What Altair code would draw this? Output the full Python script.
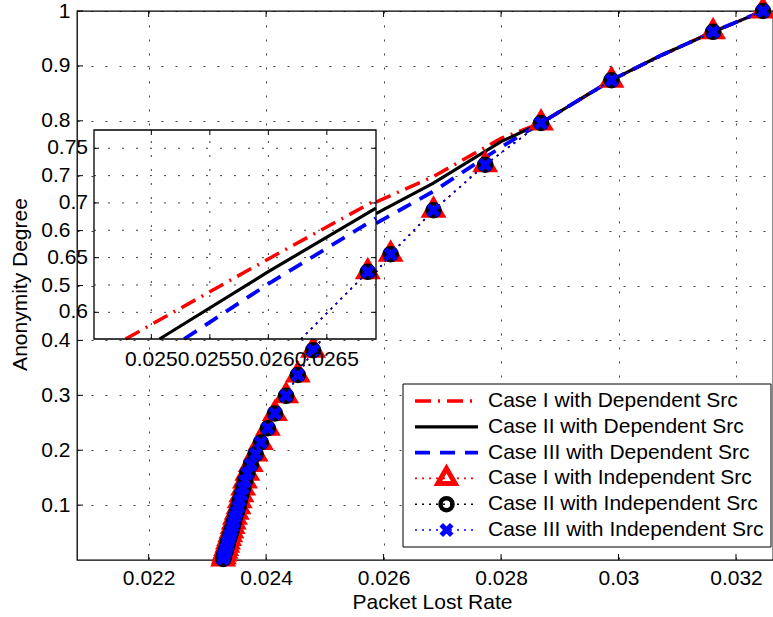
import altair as alt
import pandas as pd

FONT = "Liberation Sans"
RED, BLACK, BLUE = "#ff0000", "#000000", "#0000ff"

# ---------------- main axes ----------------
x_domain = [0.02078, 0.03263]
y_domain = [0.0, 1.0]
x_ticks = [0.022, 0.024, 0.026, 0.028, 0.030, 0.032]
y_ticks = [0.1, 0.2, 0.3, 0.4, 0.5, 0.6, 0.7, 0.8, 0.9, 1.0]

# dependent-source curves (main panel, right of the inset)
dep_x = [0.02587, 0.02684, 0.02800, 0.02868, 0.02988, 0.03070, 0.03161, 0.03246]
dep_case1 = [0.652, 0.698, 0.768, 0.796, 0.874, 0.918, 0.962, 1.000]
dep_case2 = [0.631, 0.686, 0.762, 0.796, 0.874, 0.918, 0.962, 1.000]
dep_case3 = [0.613, 0.671, 0.752, 0.796, 0.874, 0.918, 0.962, 1.000]

# independent-source curves (markers)
ind_x = [0.02327, 0.02328, 0.02329, 0.02331, 0.02332, 0.02334, 0.02335, 0.02337,
         0.02339, 0.02341, 0.02343, 0.02345, 0.02347, 0.02350, 0.02353, 0.02355,
         0.02358, 0.02361, 0.02364, 0.02368, 0.02374, 0.02382, 0.02391, 0.02403,
         0.02415, 0.02434, 0.02454, 0.02480, 0.02612, 0.02685, 0.02773, 0.02868,
         0.02988, 0.03161, 0.03246]
ind_case1 = [0.002, 0.006, 0.011, 0.016, 0.021, 0.027, 0.033, 0.039, 0.046, 0.053,
             0.061, 0.069, 0.078, 0.087, 0.097, 0.108, 0.119, 0.131, 0.144, 0.158,
             0.174, 0.193, 0.214, 0.240, 0.267, 0.299, 0.337, 0.382, 0.557, 0.637,
             0.720, 0.796, 0.874, 0.962, 1.000]
ind_case2 = list(ind_case1)
ind_case3 = list(ind_case1)

# ---------------- inset ----------------
inset_xlim = [0.02451, 0.02692]
inset_ylim = [0.5756, 0.7667]
inset_x_ticks = [0.025, 0.0255, 0.026, 0.0265]
inset_x_labels = ["0.025", "0.0255", "0.026", "0.0265"]
inset_y_ticks = [0.6, 0.65, 0.7, 0.75]
inset_y_labels = ["0.6", "0.65", "0.7", "0.75"]
inset_y_grid = [0.6, 0.625, 0.65, 0.675, 0.7, 0.725, 0.75]
inset_dep1_x = [0.02478, 0.02600, 0.02692]
inset_dep1_y = [0.5756, 0.6488, 0.7027]
inset_dep2_x = [0.02507, 0.02600, 0.02692]
inset_dep2_y = [0.5756, 0.6372, 0.6952]
inset_dep3_x = [0.02528, 0.02600, 0.02692]
inset_dep3_y = [0.5756, 0.6260, 0.6860]
inset_ind_x = [0.02628, 0.02685]
inset_ind_y = [0.5756, 0.637]

legend_labels = [
    "Case I with Dependent Src",
    "Case II with Dependent Src",
    "Case III with Dependent Src",
    "Case I with Independent Src",
    "Case II with Independent Src",
    "Case III with Independent Src",
]

# ---------------- layout (pixels) ----------------
W, H = 696, 549
INSET_RX = [17, 299]
INSET_RY = [328, 119]

TRI = "M0,-1.155L1,0.577L-1,0.577Z"
XSH = "M-1,-1L1,1M1,-1L-1,1"
DASHDOT = [16, 7, 2, 7]
DASHED = [15, 10]
DOTTED = [2, 5]


def xy(x, y):
    return pd.DataFrame({"x": x, "y": y})


def marker_mark(kind):
    if kind == "tri":
        return dict(shape=TRI, size=300, filled=False, color=RED, strokeWidth=5, opacity=1)
    if kind == "circle":
        return dict(shape="circle", size=144, filled=False, color=BLACK, strokeWidth=4.5, opacity=1)
    return dict(shape=XSH, size=110, filled=False, color=BLUE, strokeWidth=5, opacity=1)


grid_style = dict(gridDash=[2, 12], gridColor="#000000", gridOpacity=0.75, gridWidth=1)
ax_x = alt.Axis(values=x_ticks, format=".3~f", grid=True, ticks=False, tickSize=0, domain=False,
                labelFont=FONT, labelFontSize=21, labelColor="black", labelPadding=24,
                labelBaseline="alphabetic", labelFlush=False, labelOverlap=False,
                title="Packet Lost Rate", titleFont=FONT, titleFontSize=21, titleFontWeight="normal",
                titleColor="black", titleX=355, titleY=48, titleBaseline="alphabetic",
                titleAlign="center", **grid_style)
ax_y = alt.Axis(values=y_ticks, format=".1~f", grid=True, ticks=False, tickSize=0, domain=False,
                labelFont=FONT, labelFontSize=21, labelColor="black", labelPadding=7,
                labelFlush=False, labelOverlap=False,
                title="Anonymity Degree", titleFont=FONT, titleFontSize=21, titleFontWeight="normal",
                titleColor="black", titleX=-51, titleY=273, titleAngle=270,
                titleBaseline="alphabetic", titleAlign="center", **grid_style)

xs = alt.Scale(domain=x_domain, nice=False, zero=False)
ys = alt.Scale(domain=y_domain, nice=False, zero=False)
MX = alt.X("x:Q", scale=xs, axis=ax_x)
MY = alt.Y("y:Q", scale=ys, axis=ax_y)

main_layers = []
# inward ticks
main_layers.append(alt.Chart(pd.DataFrame({"x": x_ticks})).mark_rule(color="black", strokeWidth=1)
                   .encode(x=MX, y=alt.value(H), y2=alt.value(H - 6)))
main_layers.append(alt.Chart(pd.DataFrame({"x": x_ticks})).mark_rule(color="black", strokeWidth=1)
                   .encode(x=MX, y=alt.value(0), y2=alt.value(6)))
main_layers.append(alt.Chart(pd.DataFrame({"y": y_ticks})).mark_rule(color="black", strokeWidth=1)
                   .encode(y=MY, x=alt.value(0), x2=alt.value(6)))
# dependent curves
main_layers.append(alt.Chart(xy(dep_x, dep_case1)).mark_line(color=RED, strokeWidth=3.5, strokeDash=DASHDOT)
                   .encode(x=MX, y=MY))
main_layers.append(alt.Chart(xy(dep_x, dep_case2)).mark_line(color=BLACK, strokeWidth=3.2)
                   .encode(x=MX, y=MY))
main_layers.append(alt.Chart(xy(dep_x, dep_case3)).mark_line(color=BLUE, strokeWidth=3.8, strokeDash=DASHED)
                   .encode(x=MX, y=MY))
# independent curves
for ys_vals, col, kind in [(ind_case1, RED, "tri"), (ind_case2, BLACK, "circle"), (ind_case3, BLUE, "x")]:
    d = xy(ind_x, ys_vals)
    main_layers.append(alt.Chart(d).mark_line(color=col, strokeWidth=1.6, strokeDash=DOTTED)
                       .encode(x=MX, y=MY))
    main_layers.append(alt.Chart(d).mark_point(**marker_mark(kind)).encode(x=MX, y=MY))
main = alt.layer(*main_layers)

# ---------------- inset layers ----------------
IX = alt.X("x:Q", scale=alt.Scale(domain=inset_xlim, range=INSET_RX, nice=False, zero=False), axis=None)
IY = alt.Y("y:Q", scale=alt.Scale(domain=inset_ylim, range=INSET_RY, nice=False, zero=False), axis=None)
box_df = pd.DataFrame({"x": [inset_xlim[0]], "x2": [inset_xlim[1]], "y": [inset_ylim[0]], "y2": [inset_ylim[1]]})

inset_layers = []
inset_layers.append(alt.Chart(box_df).mark_rect(fill="white", strokeWidth=0)
                    .encode(x=IX, x2="x2:Q", y=IY, y2="y2:Q"))
inset_layers.append(alt.Chart(pd.DataFrame({"x": inset_x_ticks}))
                    .mark_rule(color="#000000", opacity=0.75, strokeWidth=1, strokeDash=[2, 12])
                    .encode(x=IX, y=alt.value(INSET_RY[0]), y2=alt.value(INSET_RY[1])))
inset_layers.append(alt.Chart(pd.DataFrame({"y": inset_y_grid}))
                    .mark_rule(color="#000000", opacity=0.75, strokeWidth=1, strokeDash=[2, 12])
                    .encode(y=IY, x=alt.value(INSET_RX[0]), x2=alt.value(INSET_RX[1])))
for y0, y1 in [(INSET_RY[0], INSET_RY[0] - 5), (INSET_RY[1], INSET_RY[1] + 5)]:
    inset_layers.append(alt.Chart(pd.DataFrame({"x": inset_x_ticks})).mark_rule(color="black", strokeWidth=1)
                        .encode(x=IX, y=alt.value(y0), y2=alt.value(y1)))
for x0, x1 in [(INSET_RX[0], INSET_RX[0] + 5), (INSET_RX[1], INSET_RX[1] - 5)]:
    inset_layers.append(alt.Chart(pd.DataFrame({"y": inset_y_ticks})).mark_rule(color="black", strokeWidth=1)
                        .encode(y=IY, x=alt.value(x0), x2=alt.value(x1)))
inset_layers.append(alt.Chart(xy(inset_dep1_x, inset_dep1_y))
                    .mark_line(color=RED, strokeWidth=3.5, strokeDash=DASHDOT).encode(x=IX, y=IY))
inset_layers.append(alt.Chart(xy(inset_dep2_x, inset_dep2_y))
                    .mark_line(color=BLACK, strokeWidth=3.2).encode(x=IX, y=IY))
inset_layers.append(alt.Chart(xy(inset_dep3_x, inset_dep3_y))
                    .mark_line(color=BLUE, strokeWidth=3.8, strokeDash=DASHED).encode(x=IX, y=IY))
for col, kind in [(RED, "tri"), (BLACK, "circle"), (BLUE, "x")]:
    inset_layers.append(alt.Chart(xy(inset_ind_x, inset_ind_y))
                        .mark_line(color=col, strokeWidth=1.6, strokeDash=DOTTED).encode(x=IX, y=IY))
    inset_layers.append(alt.Chart(xy(inset_ind_x[-1:], inset_ind_y[-1:]))
                        .mark_point(**marker_mark(kind)).encode(x=IX, y=IY))
inset_layers.append(alt.Chart(box_df).mark_rect(fillOpacity=0, stroke="black", strokeWidth=1.3)
                    .encode(x=IX, x2="x2:Q", y=IY, y2="y2:Q"))
inset_layers.append(alt.Chart(pd.DataFrame({"x": inset_x_ticks, "t": inset_x_labels}))
                    .mark_text(font=FONT, fontSize=21, color="black", align="center", baseline="alphabetic")
                    .encode(x=IX, y=alt.value(INSET_RY[0] + 27), text="t:N"))
inset_layers.append(alt.Chart(pd.DataFrame({"y": inset_y_ticks, "t": inset_y_labels}))
                    .mark_text(font=FONT, fontSize=21, color="black", align="right", baseline="middle")
                    .encode(y=IY, x=alt.value(INSET_RX[0] - 6), text="t:N"))
inset = alt.layer(*inset_layers)

# ---------------- legend ----------------
LY = alt.Y("label:N", scale=alt.Scale(type="point", domain=legend_labels, range=[390, 519], padding=0),
           axis=None)
legend_styles = [
    dict(color=RED, strokeWidth=3.5, strokeDash=DASHDOT),
    dict(color=BLACK, strokeWidth=3.2),
    dict(color=BLUE, strokeWidth=3.8, strokeDash=DASHED),
    dict(color=RED, strokeWidth=1.6, strokeDash=DOTTED),
    dict(color=BLACK, strokeWidth=1.6, strokeDash=DOTTED),
    dict(color=BLUE, strokeWidth=1.6, strokeDash=DOTTED),
]
legend_markers = [None, None, None, "tri", "circle", "x"]

legend_layers = [alt.Chart(pd.DataFrame({"label": legend_labels[:1]}))
                 .mark_rect(fill="white", stroke="black", strokeWidth=1)
                 .encode(x=alt.value(326), x2=alt.value(694), y=alt.value(373), y2=alt.value(536))]
for lab, sty, mk in zip(legend_labels, legend_styles, legend_markers):
    d = pd.DataFrame({"label": [lab]})
    legend_layers.append(alt.Chart(d).mark_rule(**sty)
                         .encode(y=LY, x=alt.value(338), x2=alt.value(401)))
    if mk:
        legend_layers.append(alt.Chart(d).mark_point(**marker_mark(mk))
                             .encode(y=LY, x=alt.value(369.5)))
legend_layers.append(alt.Chart(pd.DataFrame({"label": legend_labels}))
                     .mark_text(font=FONT, fontSize=21, color="black", align="left", baseline="middle")
                     .encode(y=LY, x=alt.value(411), text="label:N"))
legend = alt.layer(*legend_layers)

chart = (
    alt.layer(main, inset, legend)
    .resolve_scale(x="independent", y="independent")
    .properties(width=W, height=H, autosize=alt.AutoSizeParams(type="none"),
                padding={"left": 77, "top": 11, "right": 0, "bottom": 57},
                background="white")
    .configure_view(stroke="black", strokeWidth=1.3)
)

chart.save("out.html", embed_options={"renderer": "svg", "actions": False})
